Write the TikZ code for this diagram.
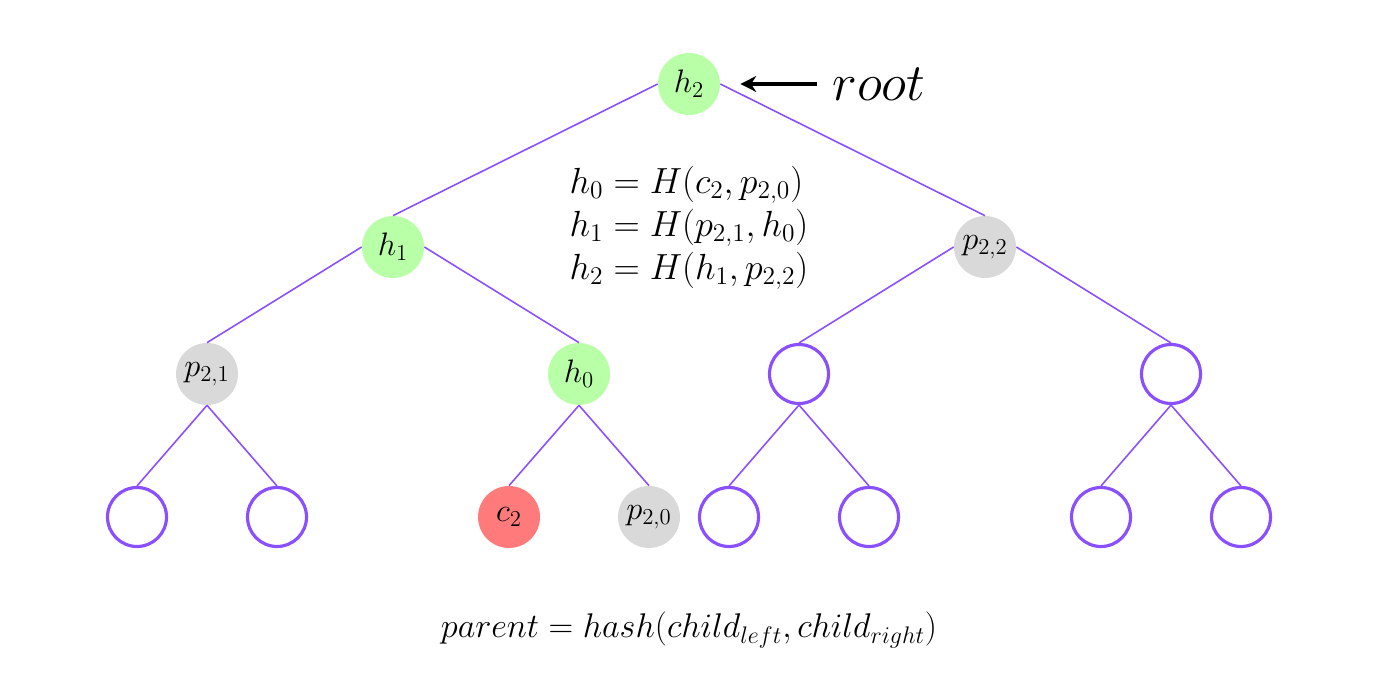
\RequirePackage{fix-cm}
\documentclass[tikz,border=0pt]{standalone}
\usepackage{amsmath, amssymb}
\usetikzlibrary{arrows.meta}
\definecolor{HashGreen}{HTML}{B9FFA8}
\definecolor{ProofGray}{HTML}{D9D9D9}
\definecolor{LeafRed}{HTML}{FF7A7A}
\definecolor{EdgePurple}{HTML}{8A4FFF}

\begin{document}
\begin{tikzpicture}[
    x=0.02cm, y=-0.02cm,
    tnode/.style={
        circle,
        minimum size=1.24cm,
        inner sep=0pt,
        font=\fontsize{18.5}{20}\selectfont
    },
    hashnode/.style={tnode, fill=HashGreen},
    proofnode/.style={tnode, fill=ProofGray},
    leafnode/.style={tnode, fill=LeafRed},
    emptynode/.style={tnode, draw=EdgePurple, line width=1.8pt, minimum size=1.18cm},
    edge/.style={draw=EdgePurple, line width=0.9pt},
    formula/.style={font=\fontsize{20.7}{24}\selectfont, inner sep=0pt}
]
\useasboundingbox (0,0) rectangle (1382,685);

% Root level
\node[hashnode] (h2) at (689,84) {$h_2$};

% Second level
\node[hashnode] (h1) at (393,247) {$h_1$};
\node[proofnode] (p22) at (985,247) {$p_{2,2}$};

% Third level
\node[proofnode] (p21) at (207,374) {$p_{2,1}$};
\node[hashnode] (h0) at (579,374) {$h_0$};
\node[emptynode] (e1) at (799,374) {};
\node[emptynode] (e2) at (1171,374) {};

% Leaves
\node[emptynode] (l1) at (137,517) {};
\node[emptynode] (l2) at (277,517) {};
\node[leafnode] (c2) at (509,517) {$c_2$};
\node[proofnode] (p20) at (649,517) {$p_{2,0}$};
\node[emptynode] (l5) at (729,517) {};
\node[emptynode] (l6) at (869,517) {};
\node[emptynode] (l7) at (1101,517) {};
\node[emptynode] (l8) at (1241,517) {};

% Edges
\draw[edge] (h2.west) -- (h1.north);
\draw[edge] (h2.east) -- (p22.north);
\draw[edge] (h1.west) -- (p21.north);
\draw[edge] (h1.east) -- (h0.north);
\draw[edge] (p22.west) -- (e1.north);
\draw[edge] (p22.east) -- (e2.north);
\draw[edge] (p21.south) -- (l1.north);
\draw[edge] (p21.south) -- (l2.north);
\draw[edge] (h0.south) -- (c2.north);
\draw[edge] (h0.south) -- (p20.north);
\draw[edge] (e1.south) -- (l5.north);
\draw[edge] (e1.south) -- (l6.north);
\draw[edge] (e2.south) -- (l7.north);
\draw[edge] (e2.south) -- (l8.north);

% Root label
\node[font=\fontsize{30}{34}\selectfont, inner sep=0pt] (rootlbl) at (879,84) {$root$};
\draw[line width=2pt, -{Stealth[length=9pt,width=9pt]}, shorten <=0.3cm, shorten >=0.4cm]
    (rootlbl.west) -- (h2.east);

% Hash equations
\node[formula] (eqs) at (689,228) {%
    $\begin{aligned}
        h_0 &= H(c_2, p_{2,0})\\[-2.5pt]
        h_1 &= H(p_{2,1}, h_0)\\[-2.5pt]
        h_2 &= H(h_1, p_{2,2})
    \end{aligned}$};

% Rule
\node[formula, font=\fontsize{19.5}{22}\selectfont] (rule) at (689,630)
    {$parent = hash(child_{left}, child_{right})$};

\end{tikzpicture}
\end{document}
